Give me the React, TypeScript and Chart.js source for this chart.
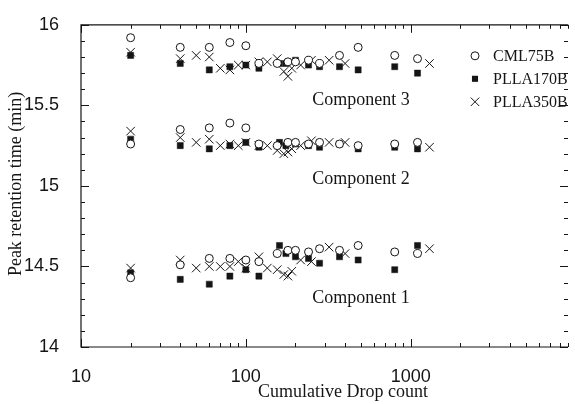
import { useEffect, useRef } from 'react';
import { Chart, registerables } from 'chart.js';

Chart.register(...registerables);

// ---- data ----
const seriesNames = ['CML75B', 'PLLA170B', 'PLLA350B'];
const componentNames = ['Component 1', 'Component 2', 'Component 3'];
const xTickLabels = [10, 100, 1000];
const yTickLabels = [14, 14.5, 15, 15.5, 16];

const cmlX = [20, 40, 60, 80, 100, 120, 155, 180, 200, 240, 280, 370, 480, 800, 1100];
const cmlC1 = [14.43, 14.51, 14.55, 14.55, 14.54, 14.53, 14.58, 14.60, 14.60, 14.59, 14.61, 14.60, 14.63, 14.59, 14.58];
const cmlC2 = [15.26, 15.35, 15.36, 15.39, 15.36, 15.26, 15.25, 15.27, 15.27, 15.26, 15.27, 15.26, 15.25, 15.26, 15.27];
const cmlC3 = [15.92, 15.86, 15.86, 15.89, 15.87, 15.76, 15.76, 15.77, 15.77, 15.78, 15.76, 15.81, 15.86, 15.81, 15.79];

const p170X = [20, 40, 60, 80, 100, 120, 160, 175, 200, 240, 280, 370, 480, 800, 1100];
const p170C1 = [14.46, 14.42, 14.39, 14.44, 14.48, 14.44, 14.63, 14.58, 14.56, 14.55, 14.52, 14.56, 14.54, 14.48, 14.63];
const p170C2 = [15.29, 15.25, 15.23, 15.25, 15.27, 15.24, 15.27, 15.25, 15.26, 15.25, 15.24, 15.26, 15.23, 15.24, 15.23];
const p170C3 = [15.81, 15.76, 15.72, 15.74, 15.75, 15.73, 15.76, 15.76, 15.78, 15.75, 15.74, 15.74, 15.72, 15.74, 15.70];

const p350X = [20, 40, 50, 60, 70, 80, 90, 100, 120, 135, 155, 170, 180, 190, 215, 250, 320, 400, 1300];
const p350C1 = [14.49, 14.54, 14.49, 14.50, 14.50, 14.50, 14.53, 14.49, 14.56, 14.49, 14.48, 14.45, 14.44, 14.47, 14.54, 14.53, 14.62, 14.58, 14.61];
const p350C2 = [15.34, 15.30, 15.27, 15.29, 15.25, 15.26, 15.25, 15.27, 15.25, 15.25, 15.22, 15.20, 15.21, 15.23, 15.25, 15.28, 15.27, 15.27, 15.24];
const p350C3 = [15.83, 15.79, 15.81, 15.80, 15.73, 15.72, 15.75, 15.75, 15.77, 15.77, 15.79, 15.71, 15.68, 15.73, 15.75, 15.78, 15.78, 15.76, 15.76];

const INK = '#151515';
const SANS = "'Liberation Sans', Arial, sans-serif";
const SERIF = "'Liberation Serif', 'Times New Roman', serif";

type Style = { pointStyle: string; radius: number; bg: string; border: string; bw: number };
const styles: Style[] = [
  { pointStyle: 'circle', radius: 4, bg: '#ffffff', border: INK, bw: 1 },
  { pointStyle: 'rect', radius: 4.3, bg: INK, border: INK, bw: 0.5 },
  { pointStyle: 'crossRot', radius: 6, bg: INK, border: INK, bw: 1 },
];

const seriesData = [
  { x: cmlX, comps: [cmlC1, cmlC2, cmlC3] },
  { x: p170X, comps: [p170C1, p170C2, p170C3] },
  { x: p350X, comps: [p350C1, p350C2, p350C3] },
];

function buildDatasets() {
  const out: any[] = [];
  seriesData.forEach((s, si) => {
    const st = styles[si];
    const pts: { x: number; y: number }[] = [];
    s.comps.forEach((c) => c.forEach((y, i) => pts.push({ x: s.x[i], y })));
    out.push({
      label: seriesNames[si],
      data: pts,
      pointStyle: st.pointStyle,
      pointRadius: st.radius,
      pointBackgroundColor: st.bg,
      pointBorderColor: st.border,
      pointBorderWidth: st.bw,
      showLine: false,
    });
  });
  return out;
}

function drawMarker(ctx: CanvasRenderingContext2D, st: Style, x: number, y: number) {
  ctx.save();
  ctx.lineWidth = st.bw;
  ctx.strokeStyle = st.border;
  ctx.fillStyle = st.bg;
  ctx.beginPath();
  if (st.pointStyle === 'circle') {
    ctx.arc(x, y, st.radius, 0, Math.PI * 2);
    ctx.fill();
    ctx.stroke();
  } else if (st.pointStyle === 'rect') {
    const s = Math.SQRT1_2 * st.radius;
    ctx.rect(x - s, y - s, 2 * s, 2 * s);
    ctx.fill();
  } else {
    const s = Math.SQRT1_2 * st.radius;
    ctx.moveTo(x - s, y - s);
    ctx.lineTo(x + s, y + s);
    ctx.moveTo(x - s, y + s);
    ctx.lineTo(x + s, y - s);
    ctx.stroke();
  }
  ctx.restore();
}

const decor = {
  id: 'decor',
  afterDraw(chart: any) {
    const { ctx, chartArea: a, scales } = chart;
    const xs = scales.x;
    const ys = scales.y;
    ctx.save();
    ctx.strokeStyle = INK;
    ctx.lineWidth = 1.2;
    ctx.beginPath();
    ctx.moveTo(a.right, a.top);
    ctx.lineTo(a.left, a.top);
    ctx.lineTo(a.left, a.bottom);
    ctx.lineTo(a.right, a.bottom);
    ctx.stroke();

    ctx.lineWidth = 1;
    ctx.beginPath();
    for (let d = 10; d <= 1000; d *= 10) {
      for (let k = 1; k <= 9; k++) {
        const v = d * k;
        if (v > xs.max) continue;
        const px = Math.round(xs.getPixelForValue(v)) + 0.5;
        const len = k === 1 ? 8 : 4;
        ctx.moveTo(px, a.bottom);
        ctx.lineTo(px, a.bottom - len);
        ctx.moveTo(px, a.top);
        ctx.lineTo(px, a.top + len);
      }
    }
    for (let i = 0; i <= 20; i++) {
      const v = 14 + i * 0.1;
      const py = Math.round(ys.getPixelForValue(v)) + 0.5;
      const len = i % 5 === 0 ? 8 : 4;
      ctx.moveTo(a.left, py);
      ctx.lineTo(a.left + len, py);
      ctx.moveTo(a.right, py);
      ctx.lineTo(a.right - len, py);
    }
    ctx.stroke();

    ctx.fillStyle = INK;
    ctx.textBaseline = 'middle';
    // component labels
    ctx.font = `18px ${SERIF}`;
    ctx.textAlign = 'center';
    const compY = [14.3, 15.04, 15.53];
    componentNames.forEach((n, i) => {
      ctx.fillText(n, a.left + 280, ys.getPixelForValue(compY[i]));
    });

    // legend
    ctx.font = `16px ${SERIF}`;
    ctx.textAlign = 'left';
    seriesNames.forEach((n, i) => {
      const y = a.top + 31 + i * 23;
      drawMarker(ctx, styles[i], a.left + 394, y);
      ctx.fillStyle = INK;
      ctx.fillText(n, a.left + 412, y + 1);
    });

    // axis titles
    ctx.font = `18px ${SERIF}`;
    ctx.textAlign = 'center';
    ctx.fillText('Cumulative Drop count', a.left + 262, 392);
    ctx.save();
    ctx.translate(16, (a.top + a.bottom) / 2 - 2);
    ctx.rotate(-Math.PI / 2);
    ctx.fillText('Peak retention time (min)', 0, 0);
    ctx.restore();
    ctx.restore();
  },
};

export default function App() {
  const ref = useRef<HTMLCanvasElement>(null);
  useEffect(() => {
    document.body.style.margin = '0';
    const canvas = ref.current;
    if (!canvas) return;
    const chart = new Chart(canvas, {
      type: 'scatter',
      data: { datasets: buildDatasets() },
      options: {
        responsive: false,
        animation: false,
        layout: { padding: { top: 21, right: 0, left: 0, bottom: 0 } },
        plugins: { legend: { display: false }, tooltip: { enabled: false }, title: { display: false } },
        scales: {
          x: {
            type: 'logarithmic',
            min: 10,
            max: 9000,
            grid: { display: false },
            border: { display: false },
            afterBuildTicks: (s: any) => {
              s.ticks = xTickLabels.map((v) => ({ value: v }));
            },
            afterFit: (s: any) => {
              s.height = 57;
            },
            ticks: {
              autoSkip: false,
              maxRotation: 0,
              padding: 11,
              color: INK,
              font: { family: SANS, size: 18 },
              callback: (v: any) => String(v),
            },
          },
          y: {
            min: 14,
            max: 16,
            grid: { display: false },
            border: { display: false },
            afterBuildTicks: (s: any) => {
              s.ticks = yTickLabels.map((v) => ({ value: v }));
            },
            afterFit: (s: any) => {
              s.width = 81;
            },
            ticks: {
              padding: 14,
              color: INK,
              font: { family: SANS, size: 18 },
              callback: (v: any) => String(v),
            },
          },
        },
      } as any,
      plugins: [decor],
    });
    return () => chart.destroy();
  }, []);
  return (
    <div style={{ width: 575, height: 404, background: '#fff' }}>
      <canvas ref={ref} width={575} height={404} style={{ display: 'block' }} />
    </div>
  );
}
